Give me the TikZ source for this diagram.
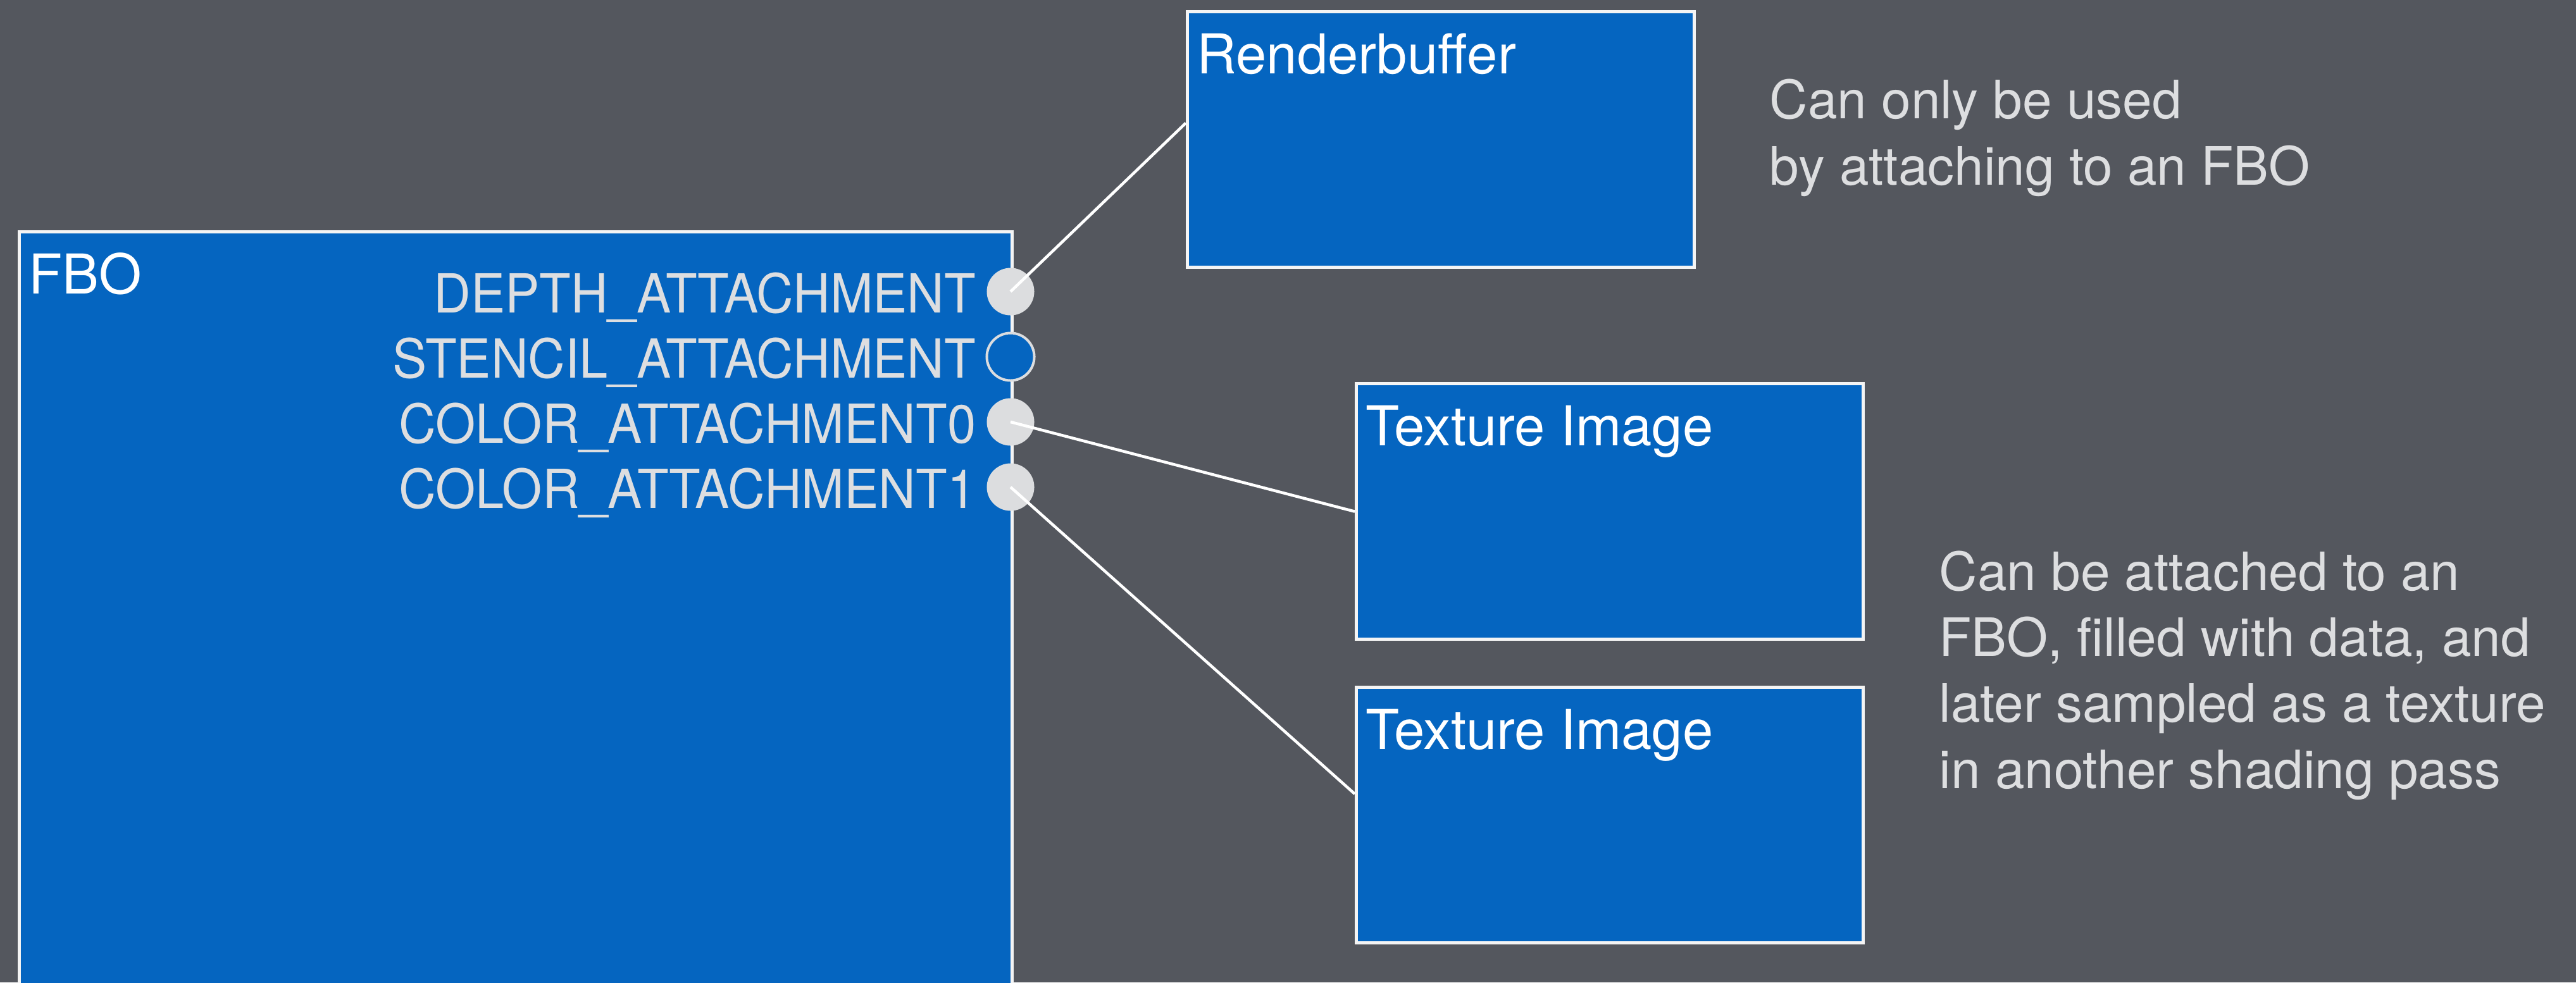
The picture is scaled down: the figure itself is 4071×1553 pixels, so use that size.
\documentclass[tikz,border=0pt]{standalone}
\usepackage{fontspec}
\setmainfont{TeX Gyre Heros}
\newfontfamily\portfont[FakeStretch=0.955]{TeX Gyre Heros}
\usetikzlibrary{positioning,calc}
\definecolor{bggray}{RGB}{84,87,94}
\definecolor{fboblue}{RGB}{5,101,192}
\definecolor{textgray}{RGB}{221,222,224}
\definecolor{portgray}{RGB}{220,221,223}
\definecolor{edgewhite}{RGB}{244,244,244}
\tikzset{
    block/.style={
        draw=edgewhite,
        fill=fboblue,
        line width=0.05cm,
        rectangle,
        inner sep=0pt,
        minimum width=8.01cm,
        minimum height=4.04cm
    },
    block_title/.style={
        anchor=base west,
        inner sep=0pt,
        text=white,
        font=\fontsize{24.7}{29}\selectfont
    },
    port/.style={
        circle,
        fill=portgray,
        inner sep=0pt,
        minimum size=0.75cm
    },
    port_empty/.style={
        port,
        fill=fboblue,
        draw=portgray,
        line width=0.04cm
    },
    port_label/.style={
        anchor=base east,
        inner sep=0pt,
        text=textgray,
        font=\portfont\fontsize{24.2}{29}\selectfont
    },
    note/.style={
        anchor=base west,
        inner sep=0pt,
        align=left,
        text=textgray,
        font=\fontsize{23.8}{29.6}\selectfont
    },
    wire/.style={
        draw=white,
        line width=0.045cm
    },
}
\begin{document}
\begin{tikzpicture}[x=0.01cm, y=-0.01cm]
    \useasboundingbox (0,0) rectangle (4071,1553);
    \fill[bggray] (0,0) rectangle (4071,1553);
    \clip (0,0) rectangle (4071,1553);

    % blocks
    \node[block, anchor=north west, minimum width=15.68cm, minimum height=13cm] (fbo) at (28,364) {};
    \node[block, anchor=north west] (rbuf) at (1874,16) {};
    \node[block, anchor=north west] (tex0) at (2141,604) {};
    \node[block, anchor=north west] (tex1) at (2141,1084) {};

    \node[block_title] (fbotitle) at ($(fbo.north west)+(17,100)$) {FBO};
    \node[block_title] (rbuftitle) at ($(rbuf.north west)+(17,100)$) {Renderbuffer};
    \node[block_title] (tex0title) at ($(tex0.north west)+(17,100)$) {Texture Image};
    \node[block_title] (tex1title) at ($(tex1.north west)+(17,100)$) {Texture Image};

    % attachment points
    \node[port] (depth) at (1597,461) {};
    \node[port_empty] (stencil) at (1597,564) {};
    \node[port] (color0) at (1597,667) {};
    \node[port] (color1) at (1597,770) {};

    \node[port_label] (depthlabel) at ($(depth.center)+(-54,33)$) {DEPTH\_ATTACHMENT};
    \node[port_label] (stencillabel) at ($(stencil.center)+(-54,33)$) {STENCIL\_ATTACHMENT};
    \node[port_label] (color0label) at ($(color0.center)+(-54,33)$) {COLOR\_ATTACHMENT0};
    \node[port_label] (color1label) at ($(color1.center)+(-54,33)$) {COLOR\_ATTACHMENT1};

    % notes (base is the last line)
    \node[note] (rbufnote) at (2796,292) {Can only be used\\by attaching to an FBO};
    \node[note] (texnote) at (3064,1246) {Can be attached to an\\FBO, filled with data, and\\later sampled as a texture\\in another shading pass};

    % lines
    \draw[wire] (depth.center) -- ($(rbuf.north west)!0.436!(rbuf.south west)$);
    \draw[wire] (color0.center) -- (tex0.west);
    \draw[wire] (color1.center) -- ($(tex1.north west)!0.418!(tex1.south west)$);

\end{tikzpicture}
\end{document}
